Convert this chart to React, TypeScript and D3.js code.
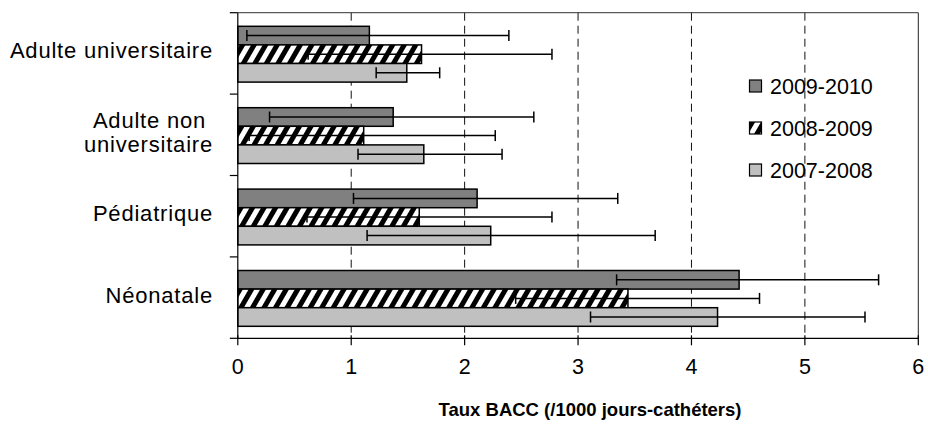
import React from "react";
import * as d3 from "d3";

// Catheter-associated bloodstream infection rates by unit type and period
const categories = ["Adulte universitaire", "Adulte non universitaire", "Pédiatrique", "Néonatale"];
const categoryLines = [["Adulte universitaire"], ["Adulte non ", "universitaire"], ["Pédiatrique"], ["Néonatale"]];
const seriesNames = ["2009-2010", "2008-2009", "2007-2008"];

const rate2009 = [1.16, 1.37, 2.11, 4.42];
const low2009 = [0.08, 0.28, 1.02, 3.34];
const high2009 = [2.39, 2.61, 3.35, 5.65];

const rate2008 = [1.62, 1.11, 1.6, 3.44];
const low2008 = [0.62, 0.1, 0.61, 2.45];
const high2008 = [2.77, 2.27, 2.77, 4.6];

const rate2007 = [1.49, 1.64, 2.23, 4.23];
const low2007 = [1.22, 1.06, 1.14, 3.11];
const high2007 = [1.78, 2.33, 3.68, 5.53];

const xTicks = [0, 1, 2, 3, 4, 5, 6];
const axisTitle = "Taux BACC (/1000 jours-cathéters)";

const W = 928;
const H = 427;
const left = 237.8;
const right = 918.3;
const top = 12.7;
const bottom = 338.3;
const barH = 18.6;
const font = "'Liberation Sans', Arial, sans-serif";

const fills = ["#808080", "url(#hatch)", "#c0c0c0"];

export default function App() {
  const x = d3.scaleLinear().domain([0, 6]).range([left, right]);
  const y = d3.scaleBand<string>().domain(categories).range([top, bottom]);
  const sub = d3.scaleBand<string>().domain(seriesNames).range([0, barH * 3]);
  const groupOffset = (y.bandwidth() - barH * 3) / 2 + 0.8;

  const rates = [rate2009, rate2008, rate2007];
  const lows = [low2009, low2008, low2007];
  const highs = [high2009, high2008, high2007];

  const bars = categories.flatMap((c, ci) =>
    seriesNames.map((s, si) => ({
      key: c + s,
      si,
      y0: (y(c) as number) + groupOffset + (sub(s) as number),
      v: rates[si][ci],
      lo: lows[si][ci],
      hi: highs[si][ci],
    }))
  );

  const cap = 11;

  return (
    <div style={{ position: "absolute", left: 0, top: 0 }}>
      <svg width={W} height={H} style={{ display: "block", background: "#fff" }}>
        <defs>
          <pattern id="hatch" patternUnits="userSpaceOnUse" width={10} height={30} patternTransform="rotate(30)">
            <rect width={10} height={30} fill="#fff" />
            <rect width={5} height={30} fill="#000" />
          </pattern>
        </defs>

        {/* dashed vertical gridlines */}
        {xTicks.slice(1, -1).map((t) => (
          <line key={"g" + t} x1={x(t)} x2={x(t)} y1={top} y2={bottom} stroke="#111" strokeWidth={1} strokeDasharray="8,5" />
        ))}

        {/* plot frame (top and right) */}
        <line x1={left} x2={right} y1={top} y2={top} stroke="#333" strokeWidth={1} />
        <line x1={right} x2={right} y1={top} y2={bottom} stroke="#222" strokeWidth={1} />

        {/* bars */}
        {bars.map((b) => (
          <rect
            key={b.key}
            x={x(0)}
            y={b.y0}
            width={x(b.v) - x(0)}
            height={barH}
            fill={fills[b.si]}
            stroke="#000"
            strokeWidth={1.5}
          />
        ))}

        {/* error bars */}
        {bars.map((b) => {
          const cy = b.y0 + barH / 2;
          return (
            <g key={"e" + b.key} stroke="#000" strokeWidth={1.5}>
              <line x1={x(b.lo)} x2={x(b.hi)} y1={cy} y2={cy} />
              <line x1={x(b.lo)} x2={x(b.lo)} y1={cy - cap / 2} y2={cy + cap / 2} />
              <line x1={x(b.hi)} x2={x(b.hi)} y1={cy - cap / 2} y2={cy + cap / 2} />
            </g>
          );
        })}

        {/* category axis */}
        <line x1={left} x2={left} y1={top} y2={bottom} stroke="#000" strokeWidth={1.2} />
        {[...categories.map((c) => y(c) as number), bottom].map((v, i) => (
          <line key={"ct" + i} x1={left - 8} x2={left} y1={v} y2={v} stroke="#000" strokeWidth={1.2} />
        ))}
        {categories.map((c, ci) => {
          const lines = categoryLines[ci];
          const cy = (y(c) as number) + y.bandwidth() / 2;
          const lh = 24;
          const first = cy + 5 - ((lines.length - 1) * lh) / 2;
          return (
            <text
              key={"cl" + c}
              x={213}
              textAnchor="end"
              fontFamily={font}
              fontSize={22}
              letterSpacing={0.8}
              fill="#000"
              style={{ whiteSpace: "pre" }}
            >
              {lines.map((ln, li) => (
                <tspan key={li} x={213} y={first + li * lh}>
                  {ln}
                </tspan>
              ))}
            </text>
          );
        })}

        {/* value axis */}
        <line x1={left} x2={right} y1={bottom} y2={bottom} stroke="#000" strokeWidth={1.2} />
        {xTicks.map((t) => (
          <g key={"xt" + t}>
            <line x1={x(t)} x2={x(t)} y1={bottom - 3} y2={bottom + 7} stroke="#000" strokeWidth={1.2} />
            <text x={x(t)} y={374} textAnchor="middle" fontFamily={font} fontSize={21.5} fill="#000">
              {t}
            </text>
          </g>
        ))}
        <text x={(left + right) / 2 + 12} y={416} textAnchor="middle" fontFamily={font} fontSize={18.5} fontWeight="bold" fill="#000">
          {axisTitle}
        </text>

        {/* legend */}
        {seriesNames.map((s, si) => {
          const cy = 86 + si * 42;
          return (
            <g key={"lg" + s}>
              <rect x={749.5} y={cy - 6} width={12} height={12} fill={fills[si]} stroke="#000" strokeWidth={1.2} />
              <text x={770} y={cy + 7.5} fontFamily={font} fontSize={21.5} fill="#000">
                {s}
              </text>
            </g>
          );
        })}
      </svg>
    </div>
  );
}
